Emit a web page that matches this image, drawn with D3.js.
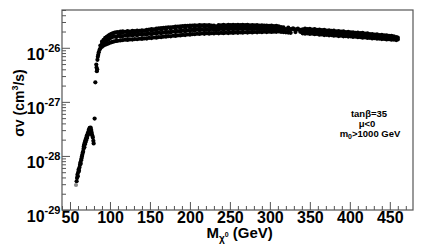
<!DOCTYPE html>
<html>
<head>
<meta charset="utf-8">
<script src="https://cdn.jsdelivr.net/npm/d3@7/dist/d3.min.js"></script>
<style>
body { margin: 0; background: #fff; }
text { font-family: "Liberation Sans", Arial, Helvetica, sans-serif; font-weight: bold; fill: #000; }
</style>
</head>
<body>
<div id="plot"></div>
<script>
// neutralino mass (GeV) vs annihilation cross section sigma*v (cm^3/s)

var xTicks = [50, 100, 150, 200, 250, 300, 350, 400, 450];
var yDecades = [-29, -28, -27, -26];

// lowest point, drawn grey
var greyPoint = [[57.5, 2.9e-29]];

// light branch below the Z pole
var lowBranch = [
	[58.3, 3.4e-29], [58.8, 3.9e-29], [59.3, 4.5e-29], [59.8, 4.2e-29], [60.3, 5.0e-29],
	[60.8, 5.6e-29], [61.3, 5.3e-29], [61.8, 6.1e-29], [62.4, 6.8e-29], [62.9, 7.5e-29],
	[63.4, 7.2e-29], [63.9, 8.3e-29], [64.4, 9.0e-29], [64.9, 9.8e-29], [65.4, 1.05e-28],
	[65.9, 1.15e-28], [66.4, 1.2e-28], [66.9, 1.35e-28], [67.2, 1.5e-28], [67.6, 1.6e-28],
	[68.0, 1.45e-28], [68.3, 1.75e-28], [68.7, 1.65e-28], [69.0, 1.9e-28], [69.4, 1.8e-28],
	[69.8, 2.05e-28], [70.2, 1.95e-28], [70.6, 2.2e-28], [71.0, 2.35e-28], [71.4, 2.15e-28],
	[71.8, 2.5e-28], [72.2, 2.4e-28], [72.6, 2.7e-28], [73.0, 2.6e-28], [73.4, 2.9e-28],
	[73.8, 3.1e-28], [74.2, 2.85e-28], [74.6, 3.3e-28], [75.0, 3.2e-28], [75.4, 3.0e-28],
	[75.8, 3.35e-28], [76.2, 3.1e-28], [76.6, 2.9e-28], [77.0, 2.7e-28], [77.4, 2.5e-28],
	[78.0, 2.35e-28], [78.6, 2.2e-28], [79.2, 1.9e-28], [79.6, 1.7e-28]
];

// steep rise through the Z / h pole
var poleRise = [
	[80.8, 4.9e-28], [81.7, 2.3e-27], [82.9, 4.9e-27], [83.2, 4.3e-27], [83.6, 3.7e-27],
	[84.0, 4.0e-27], [84.3, 6.0e-27], [84.8, 6.8e-27], [85.3, 7.4e-27], [86.0, 8.3e-27],
	[87.0, 9.2e-27]
];

// main band, one row per mass column: [mass, sigma values in units of 1e-26]
var bandUnit = 1e-26;
var band = [
	[88, 0.98, 1.10], [90, 1.05, 1.18, 1.30], [92, 1.10, 1.24, 1.40], [94, 1.14, 1.30, 1.52],
	[96, 1.17, 1.36, 1.60], [98, 1.20, 1.42, 1.68], [100, 1.24, 1.50, 1.76], [102, 1.27, 1.56, 1.82],
	[104, 1.30, 1.60, 1.87], [106, 1.32, 1.63, 1.91], [108, 1.34, 1.58, 1.94], [110, 1.35, 1.66, 1.96],
	[113, 1.37, 1.62, 1.86, 1.99], [116, 1.39, 1.65, 1.92, 2.02], [119, 1.41, 1.70, 1.98],
	[122, 1.40, 1.66, 1.90, 2.04], [125, 1.43, 1.73, 2.00], [128, 1.42, 1.68, 1.93, 2.05],
	[131, 1.45, 1.75, 2.03], [134, 1.44, 1.70, 1.95, 2.07], [137, 1.47, 1.78, 2.06],
	[140, 1.46, 1.73, 1.99, 2.10], [143, 1.49, 1.80, 2.09], [146, 1.48, 1.75, 2.02, 2.14],
	[149, 1.52, 1.83, 2.17], [152, 1.51, 1.78, 2.06, 2.21], [155, 1.55, 1.86, 2.20],
	[158, 1.54, 1.81, 2.10, 2.26], [161, 1.58, 1.90, 2.28], [164, 1.57, 1.85, 2.14, 2.32],
	[167, 1.61, 1.93, 2.33], [170, 1.60, 1.88, 2.18, 2.36], [173, 1.64, 1.96, 2.38],
	[176, 1.63, 1.92, 2.22, 2.40], [179, 1.67, 2.00, 2.42], [182, 1.66, 1.95, 2.26, 2.46],
	[185, 1.70, 2.04, 2.47], [188, 1.69, 1.98, 2.30, 2.50], [191, 1.73, 2.08, 2.51],
	[194, 1.72, 2.01, 2.33, 2.54], [197, 1.76, 2.10, 2.55], [200, 1.75, 2.04, 2.36, 2.58],
	[203, 1.79, 2.14, 2.56], [206, 1.78, 2.07, 2.38, 2.60], [209, 1.82, 2.17, 2.58],
	[212, 1.80, 2.10, 2.41, 2.62], [215, 1.85, 2.20, 2.59], [218, 1.81, 2.11, 2.43, 2.63],
	[221, 1.86, 2.22, 2.60], [224, 1.82, 2.12, 2.44, 2.64], [227, 1.87, 2.23, 2.58],
	[230, 1.84, 2.14, 2.42, 2.57], [233, 1.88, 2.20, 2.50], [236, 1.85, 2.15, 2.46, 2.64],
	[239, 1.89, 2.24, 2.60], [242, 1.86, 2.16, 2.47, 2.66], [245, 1.90, 2.25, 2.61],
	[248, 1.87, 2.17, 2.48, 2.66], [251, 1.91, 2.26, 2.62], [254, 1.88, 2.18, 2.49, 2.67],
	[257, 1.92, 2.27, 2.63], [260, 1.89, 2.19, 2.50, 2.67], [263, 1.93, 2.28, 2.63],
	[266, 1.90, 2.20, 2.50, 2.66], [269, 1.94, 2.28, 2.62], [272, 1.91, 2.21, 2.50, 2.65],
	[275, 1.95, 2.28, 2.61], [278, 1.92, 2.21, 2.49, 2.64], [281, 1.96, 2.27, 2.60],
	[284, 1.93, 2.22, 2.48, 2.62], [287, 1.97, 2.27, 2.58], [290, 1.94, 2.22, 2.47, 2.60],
	[293, 1.98, 2.26, 2.56], [296, 1.95, 2.22, 2.46, 2.58], [299, 1.99, 2.25, 2.54],
	[302, 1.96, 2.21, 2.45, 2.56], [305, 1.99, 2.24, 2.52], [308, 1.97, 2.21, 2.44, 2.54],
	[311, 2.00, 2.23, 2.50], [314, 1.96, 2.19, 2.42], [317, 1.95, 2.17, 2.38],
	[320, 1.93, 2.22], [323, 1.91, 2.20, 2.36], [326, 1.89, 2.21], [329, 2.22, 2.30],
	[332, 1.95, 2.20], [335, 2.18, 2.27], [338, 1.97, 2.15],
	[341, 1.85, 2.02, 2.20], [344, 1.82, 1.98, 2.15, 2.26], [347, 1.85, 2.02, 2.21],
	[350, 1.80, 1.96, 2.12, 2.24], [353, 1.83, 2.00, 2.18], [356, 1.78, 1.93, 2.10, 2.21],
	[359, 1.80, 1.97, 2.15], [362, 1.75, 1.90, 2.07, 2.17], [365, 1.77, 1.94, 2.12],
	[368, 1.72, 1.87, 2.04, 2.14], [371, 1.74, 1.91, 2.08], [374, 1.70, 1.85, 2.01, 2.11],
	[377, 1.72, 1.88, 2.05], [380, 1.67, 1.82, 1.98, 2.07], [383, 1.69, 1.85, 2.02],
	[386, 1.65, 1.80, 1.95, 2.04], [389, 1.67, 1.82, 1.99], [392, 1.63, 1.77, 1.92, 2.01],
	[395, 1.65, 1.80, 1.96], [398, 1.61, 1.75, 1.89, 1.98], [401, 1.63, 1.77, 1.93],
	[404, 1.59, 1.72, 1.86, 1.94], [407, 1.61, 1.74, 1.89], [410, 1.57, 1.70, 1.83, 1.91],
	[413, 1.58, 1.72, 1.86], [416, 1.54, 1.67, 1.80, 1.88], [419, 1.56, 1.69, 1.83],
	[422, 1.52, 1.64, 1.77, 1.84], [425, 1.53, 1.66, 1.79], [428, 1.49, 1.61, 1.73, 1.80],
	[431, 1.51, 1.63, 1.76], [434, 1.47, 1.58, 1.70, 1.77], [437, 1.48, 1.60, 1.72],
	[440, 1.45, 1.56, 1.67, 1.73], [443, 1.46, 1.57, 1.69], [446, 1.43, 1.53, 1.64, 1.70],
	[449, 1.44, 1.55, 1.66], [452, 1.41, 1.51, 1.61, 1.67], [455, 1.42, 1.52, 1.63],
	[458, 1.39, 1.49, 1.58], [460, 1.43, 1.54]
];

var margin = { top: 10, right: 10, bottom: 39, left: 62 },
	width = 423 - margin.left - margin.right, height = 249 - margin.top - margin.bottom;

var svg = d3.select("#plot")
	.append("svg")
	.attr("width", 423)
	.attr("height", 249)
	.append("g")
	.attr("transform", "translate(" + margin.left + "," + margin.top + ")");

var xScale = d3.scaleLinear()
	.domain([40, 479])
	.range([0, width]);

var yScale = d3.scaleLog()
	.domain([1e-29, 5e-26])
	.range([height, 0]);

//flatten band rows into points
var bandPoints = [];
band.forEach(function (row) {
	row.slice(1).forEach(function (s) { bandPoints.push([row[0], s * bandUnit]); });
});
var points = lowBranch.concat(poleRise, bandPoints);

//minor tick positions
var xMinor = d3.range(40, 480, 10).filter(function (v) { return v % 50 != 0; });
var yMinor = [];
yDecades.forEach(function (d) {
	for (var m = 2; m <= 9; m++) {
		var v = m * Math.pow(10, d);
		if (v <= 5.01e-26) yMinor.push(v);
	}
});

//x axis, ticks pointing inwards
var xAxis = svg.append("g")
	.attr("transform", "translate(0," + height + ")")
	.call(d3.axisBottom(xScale).tickValues(xTicks).tickSize(-8).tickPadding(2).tickSizeOuter(0));
xAxis.select(".domain").remove();
xAxis.selectAll("text").style("font-size", "16px").style("font-family", null);
xAxis.selectAll("line").attr("stroke", "#555");

svg.append("g")
	.attr("transform", "translate(0," + height + ")")
	.call(d3.axisBottom(xScale).tickValues(xMinor).tickSize(-4).tickFormat(""))
	.call(function (g) { g.select(".domain").remove(); g.selectAll("line").attr("stroke", "#555"); });

//y axis
svg.append("g")
	.call(d3.axisLeft(yScale).tickValues(yDecades.map(function (d) { return Math.pow(10, d); })).tickSize(-8).tickFormat(""))
	.call(function (g) { g.select(".domain").remove(); g.selectAll("line").attr("stroke", "#555"); });

svg.append("g")
	.call(d3.axisLeft(yScale).tickValues(yMinor).tickSize(-4).tickFormat(""))
	.call(function (g) { g.select(".domain").remove(); g.selectAll("line").attr("stroke", "#555"); });

//y labels as 10^n
var yLab = svg.append("g").selectAll("text")
	.data(yDecades)
	.enter().append("text")
	.attr("x", -1.5)
	.attr("y", function (d) { return yScale(Math.pow(10, d)) + 11.8; })
	.attr("text-anchor", "end")
	.style("font-size", "16px");
yLab.append("tspan").text("10");
yLab.append("tspan").attr("dy", -8).style("font-size", "11px").text(function (d) { return d; });

//frame
svg.append("rect")
	.attr("x", 0)
	.attr("y", 0)
	.attr("width", width)
	.attr("height", height)
	.attr("fill", "none")
	.attr("stroke", "#555")
	.attr("stroke-width", 1.2);

//points
svg.append("g")
	.selectAll("circle")
	.data(points)
	.enter().append("circle")
	.attr("cx", function (d) { return xScale(d[0]); })
	.attr("cy", function (d) { return yScale(d[1]); })
	.attr("r", 2.1)
	.attr("fill", "#000");

svg.append("g")
	.selectAll("circle")
	.data(greyPoint)
	.enter().append("circle")
	.attr("cx", function (d) { return xScale(d[0]); })
	.attr("cy", function (d) { return yScale(d[1]); })
	.attr("r", 2.1)
	.attr("fill", "#8a8a8a");

//axis titles
var xt = svg.append("text")
	.attr("x", 206.5 - margin.left)
	.attr("y", 238 - margin.top)
	.style("font-size", "15px");
xt.append("tspan").text("M");
xt.append("tspan").attr("dy", 4).style("font-size", "10px").text("χ");
xt.append("tspan").attr("dy", -5).style("font-size", "7px").text("0");
xt.append("tspan").attr("dy", 1).text(" (GeV)");

var yt = svg.append("text")
	.attr("transform", "translate(" + (24 - margin.left) + "," + (103 - margin.top) + ") rotate(-90)")
	.attr("text-anchor", "middle")
	.style("font-size", "14px");
yt.append("tspan").text("σv (cm");
yt.append("tspan").attr("dy", -6).style("font-size", "9px").text("3");
yt.append("tspan").attr("dy", 6).text("/s)");

//parameter notes
var noteX = 369 - margin.left;
svg.append("text").attr("x", noteX).attr("y", 116.5 - margin.top).attr("text-anchor", "middle")
	.style("font-size", "9.5px").text("tanβ=35");
svg.append("text").attr("x", noteX - 2).attr("y", 126.5 - margin.top).attr("text-anchor", "middle")
	.style("font-size", "9.5px").text("μ<0");
var m0 = svg.append("text").attr("x", noteX + 1).attr("y", 136.5 - margin.top).attr("text-anchor", "middle")
	.style("font-size", "9.5px");
m0.append("tspan").text("m");
m0.append("tspan").attr("dy", 2.5).style("font-size", "7px").text("0");
m0.append("tspan").attr("dy", -2.5).text(">1000 GeV");
</script>
</body>
</html>
